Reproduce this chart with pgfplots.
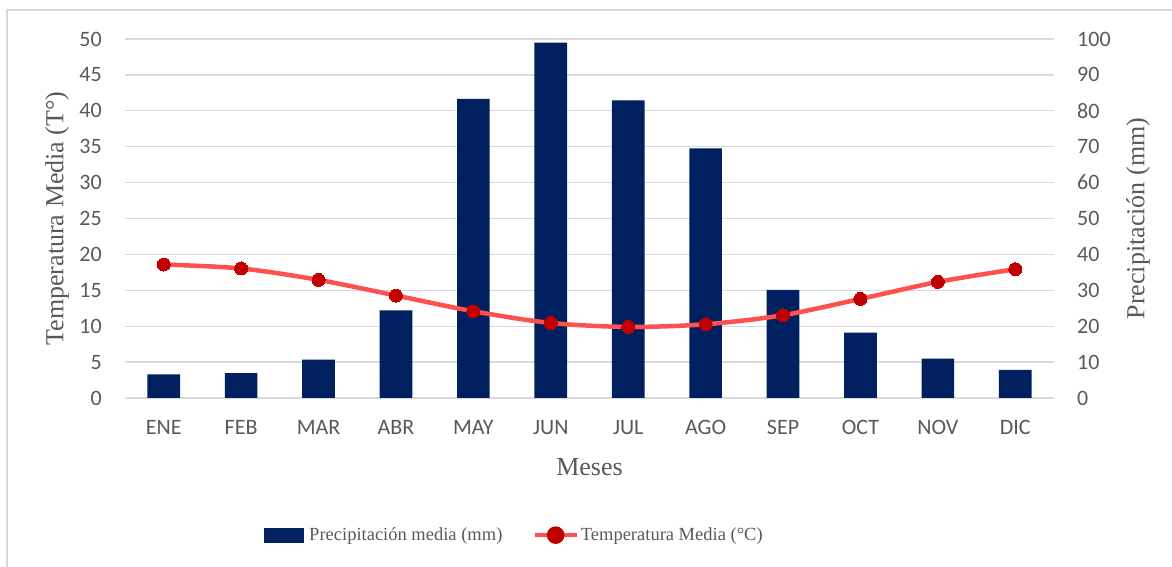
\documentclass[border=0pt]{standalone}
\usepackage{fontspec}
\setmainfont{Liberation Serif}
\newfontfamily\calibri{Carlito}
\usepackage{pgfplots}
\pgfplotsset{compat=1.18}
\definecolor{navy}{HTML}{002060}
\definecolor{linered}{HTML}{FF5050}
\definecolor{markred}{HTML}{C00000}
\definecolor{txt}{HTML}{595959}
\definecolor{gridc}{HTML}{D9D9D9}
\pgfplotsset{
  common/.style={
    at={(125pt,169pt)}, anchor=south west, scale only axis,
    width=929pt, height=359pt,
    xmin=-0.5, xmax=11.5,
    axis line style={draw=none}, major tick length=0pt,
    tick label style={font=\calibri\fontsize{22}{26}\selectfont, text=txt, inner sep=0pt},
    /pgf/number format/assume math mode=true,
  }
}
\begin{document}
\begin{tikzpicture}[x=1pt,y=1pt]
\draw[gridc, line width=1.5pt] (7,-10) -- (7,557) -- (1185,557);
\begin{axis}[common,
  ymin=0, ymax=100,
  axis y line*=right, axis x line*=bottom,
  xtick={0,...,11},
  xticklabels={ENE,FEB,MAR,ABR,MAY,JUN,JUL,AGO,SEP,OCT,NOV,DIC},
  ytick={0,10,...,100},
  ymajorgrids, grid style={gridc, line width=1.3pt},
  yticklabel style={anchor=west, xshift=23pt},
  xticklabel style={anchor=base, yshift=-37pt},
  ylabel={Precipitación (mm)},
  every axis y label/.style={at={(axis description cs:1.0904,0.5)}, anchor=center, rotate=90,
    font=\fontsize{26}{30}\selectfont, text=txt},
  xlabel={Meses},
  every axis x label/.style={at={(axis description cs:0.5,-0.192)}, anchor=center,
    font=\fontsize{26}{30}\selectfont, text=txt},
]
\addplot[ybar, bar width=32.7pt, fill=navy, draw=none] coordinates {
(0,6.6) (1,6.9) (2,10.7) (3,24.4) (4,83.3) (5,99.0)
(6,82.9) (7,69.5) (8,30.1) (9,18.2) (10,11.0) (11,7.8)};
\end{axis}
\begin{axis}[common,
  ymin=0, ymax=50,
  axis y line*=left, axis x line=none,
  ytick={0,5,...,50},
  yticklabel style={anchor=east, xshift=-23pt},
  ylabel={Temperatura Media (T°)},
  every axis y label/.style={at={(axis description cs:-0.0732,0.5)}, anchor=center, rotate=90,
    font=\fontsize{26}{30}\selectfont, text=txt},
  legend style={at={(0.419,-0.382)}, anchor=center, draw=none, fill=none,
    legend columns=-1, font=\fontsize{18.5}{22}\selectfont, text=txt,
    /tikz/every even column/.append style={column sep=28pt}},
]
\addlegendimage{legend image code/.code={\fill[navy] (0pt,-7pt) rectangle (39pt,7pt); \path (43pt,0pt);}}
\addlegendentry{Precipitación media (mm)}
\addplot[linered, line width=4.5pt, smooth, tension=0.5, mark=*, mark size=6.5pt,
  mark options={fill=markred, draw=markred, line width=0pt},
  legend image code/.code={\draw[linered, line width=4.5pt] (0pt,0pt)--(42pt,0pt); \fill[markred] (21pt,0pt) circle (6.5pt);}]
coordinates {
(0,18.59) (1,18.04) (2,16.45) (3,14.27) (4,12.08) (5,10.45)
(6,9.9) (7,10.27) (8,11.53) (9,13.8) (10,16.17) (11,17.94)};
\addlegendentry{Temperatura Media (°C)}
\end{axis}
\pgfresetboundingbox
\useasboundingbox (0,0) rectangle (1172,567);
\end{tikzpicture}
\end{document}
